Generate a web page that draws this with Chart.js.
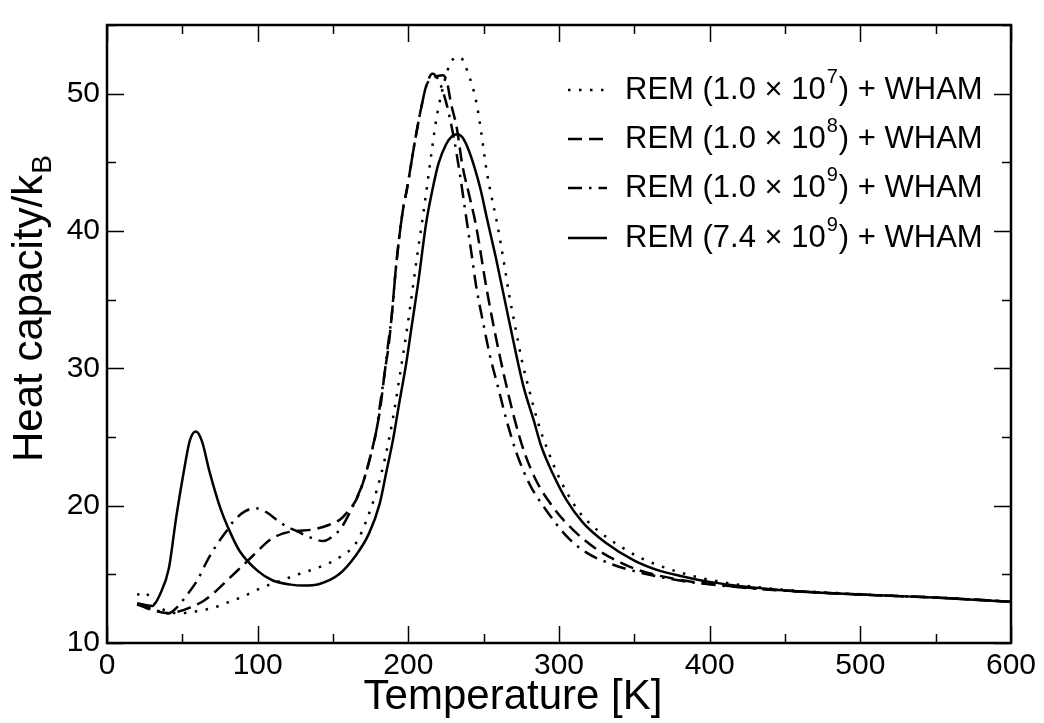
<!DOCTYPE html>
<html>
<head>
<meta charset="utf-8">
<script src="https://cdn.jsdelivr.net/npm/chart.js@4.4.0/dist/chart.umd.min.js"></script>
<style>
  html, body { margin: 0; padding: 0; background: #fff; }
  #wrap { width: 1044px; height: 723px; }
</style>
</head>
<body>
<div id="wrap"><canvas id="heatChart"></canvas></div>
<script>
const fontFamily = '"Liberation Sans", Arial, Helvetica, sans-serif';

// REM (1.0 x 10^7) + WHAM  -- dotted
const tempRem7 = [20, 25, 30, 38, 47, 55, 63, 71, 80, 90, 103, 116, 128, 141, 154.5, 165.5, 172, 179, 184.5, 190, 194.5, 198.5, 201, 206, 211, 215.5, 218.5, 222, 227, 232, 235, 239, 245, 248.5, 251.5, 255, 258.5, 263, 267, 271, 275.5, 280.5, 286.5, 293, 299, 306, 313, 320, 331, 345, 354, 370, 380, 400, 442, 500, 552, 600];
const capRem7 = [13.5, 13.7, 13.05, 12.4, 12.17, 12.24, 12.38, 12.58, 12.95, 13.37, 14.04, 14.57, 15.04, 15.52, 16.24, 17.31, 18.87, 21.1, 23.45, 26.5, 29.6, 32.4, 34.3, 38.3, 42.1, 45.8, 48.1, 50.0, 52.0, 52.65, 52.6, 51.7, 49.45, 47.1, 44.7, 42.6, 40.8, 38.0, 35.3, 33.0, 30.5, 28.3, 25.9, 23.9, 22.3, 20.8, 19.6, 18.75, 17.75, 16.75, 16.2, 15.5, 15.15, 14.6, 13.95, 13.55, 13.3, 13.0];

// REM (1.0 x 10^8) + WHAM  -- dashed
const tempRem8 = [20, 26.5, 34, 41, 47.5, 55, 64, 73, 82, 90.5, 99.5, 108, 117, 125, 137, 148, 154.5, 159, 166, 170, 174.5, 179, 181.5, 184.5, 187, 189, 192, 196.5, 199, 204, 208.5, 212, 216, 220, 223, 225.5, 228.5, 232, 236, 240, 245, 252, 260.5, 270.5, 277, 285, 296, 309, 325, 342, 353, 380, 400, 442, 500, 552, 600];
const capRem8 = [12.84, 12.53, 12.29, 12.17, 12.29, 12.58, 13.06, 13.85, 14.8, 15.68, 16.64, 17.5, 17.98, 18.15, 18.27, 18.63, 18.98, 19.46, 20.55, 21.7, 23.45, 25.6, 27.2, 29.85, 31.7, 33.85, 37.6, 41.6, 43.0, 46.3, 48.95, 50.6, 51.1, 51.3, 51.35, 50.9, 49.2, 47.6, 44.7, 42.8, 40.35, 35.75, 31.0, 26.3, 23.9, 21.8, 19.9, 18.27, 16.83, 15.8, 15.3, 14.6, 14.3, 13.88, 13.53, 13.3, 13.0];

// REM (1.0 x 10^9) + WHAM  -- dash-dot
const tempRem9 = [20, 28, 35, 41, 47.5, 53, 60, 66, 73, 78.5, 84, 91.5, 98.5, 106, 112.5, 119.5, 126, 132.5, 143.5, 150, 155.5, 161, 165.5, 170, 174.5, 179, 181, 184.5, 186.5, 189, 192, 196.5, 199, 204, 208.5, 212, 216, 220, 225, 230, 234, 238, 242, 245, 249.5, 254, 259.5, 265, 271.5, 280.5, 291.5, 305, 318, 336, 353, 380, 400, 442, 500, 552, 600];
const capRem9 = [12.8, 12.55, 12.3, 12.17, 12.72, 13.49, 14.57, 15.88, 17.19, 18.03, 18.87, 19.58, 19.82, 19.51, 18.98, 18.46, 18.15, 17.79, 17.43, 17.79, 18.39, 19.46, 20.5, 21.7, 23.45, 25.6, 27.2, 29.85, 31.7, 33.85, 37.6, 41.6, 43.0, 46.3, 48.95, 50.6, 51.45, 51.0, 49.4, 46.9, 44.3, 41.3, 38.3, 36.0, 33.4, 31.0, 28.65, 26.3, 23.93, 21.56, 19.67, 17.78, 16.6, 15.7, 15.15, 14.55, 14.27, 13.86, 13.53, 13.3, 13.0];

// REM (7.4 x 10^9) + WHAM  -- solid
const tempRem74 = [20, 30, 35, 41, 46, 51, 55, 59, 63, 68, 75, 82, 88, 100, 110, 122, 130, 141, 154, 165, 174, 181, 185.5, 190, 194, 198.5, 202, 206.5, 212, 216, 220, 225, 229, 232.5, 236, 240, 244, 248, 252, 258, 267, 276.5, 283, 288, 296, 305, 316, 331, 350, 367, 380, 400, 442, 500, 552, 600];
const capRem74 = [12.9, 12.7, 13.5, 15.4, 19.2, 22.5, 24.75, 25.4, 24.7, 22.5, 19.9, 18.0, 16.7, 15.25, 14.55, 14.25, 14.18, 14.3, 15.0, 16.35, 18.0, 20.15, 22.5, 24.9, 27.5, 30.3, 32.9, 36.2, 40.7, 43.0, 44.9, 46.3, 46.9, 47.05, 46.8, 45.9, 44.6, 43.0, 41.0, 38.1, 33.4, 28.65, 26.3, 24.4, 22.3, 20.4, 18.75, 17.3, 16.0, 15.25, 14.9, 14.45, 13.9, 13.53, 13.3, 13.0];

// legend text: mantissa and exponent for each run
const legendMantissa = ['1.0', '1.0', '1.0', '7.4'];
const legendExponent = ['7', '8', '9', '9'];

const dashStyles = [[2.5, 8.5], [14, 7], [14, 7, 2.5, 7], []];

function toPoints(xs, ys) {
  return xs.map((x, i) => ({ x: x, y: ys[i] }));
}

const seriesData = [
  toPoints(tempRem7, capRem7),
  toPoints(tempRem8, capRem8),
  toPoints(tempRem9, capRem9),
  toPoints(tempRem74, capRem74)
];

const frameAndLegend = {
  id: 'frameAndLegend',
  afterDraw(chart) {
    const ctx = chart.ctx;
    const a = chart.chartArea;
    const xs = chart.scales.x;
    const ys = chart.scales.y;
    ctx.save();
    ctx.strokeStyle = '#000';
    ctx.fillStyle = '#000';

    // inward ticks on all four sides
    ctx.lineWidth = 1.5;
    ctx.beginPath();
    for (let v = 0; v <= 600; v += 50) {
      const px = Math.round(xs.getPixelForValue(v)) + 0.5;
      const len = v % 100 === 0 ? 17 : 9;
      ctx.moveTo(px, a.bottom); ctx.lineTo(px, a.bottom - len);
      ctx.moveTo(px, a.top); ctx.lineTo(px, a.top + len);
    }
    for (let v = 10; v <= 55; v += 5) {
      const py = Math.round(ys.getPixelForValue(v)) + 0.5;
      const len = v % 10 === 0 ? 17 : 9;
      ctx.moveTo(a.left, py); ctx.lineTo(a.left + len, py);
      ctx.moveTo(a.right, py); ctx.lineTo(a.right - len, py);
    }
    ctx.stroke();

    // frame
    ctx.lineWidth = 2.5;
    ctx.strokeRect(a.left, a.top, a.right - a.left, a.bottom - a.top);

    // legend inside the plot
    const big = 31, small = 20;
    const rowY = [90, 139, 188, 238];
    ctx.textBaseline = 'middle';
    ctx.textAlign = 'left';
    for (let i = 0; i < 4; i++) {
      const y = rowY[i];
      ctx.lineWidth = 2.5;
      ctx.setLineDash(dashStyles[i]);
      ctx.beginPath();
      ctx.moveTo(568, y);
      ctx.lineTo(607, y);
      ctx.stroke();
      ctx.setLineDash([]);
      let tx = 625;
      ctx.font = big + 'px ' + fontFamily;
      const head = 'REM (' + legendMantissa[i] + ' \u00d7 10';
      ctx.fillText(head, tx, y);
      tx += ctx.measureText(head).width;
      ctx.font = small + 'px ' + fontFamily;
      ctx.fillText(legendExponent[i], tx + 1, y - 13);
      tx += ctx.measureText(legendExponent[i]).width + 2;
      ctx.font = big + 'px ' + fontFamily;
      ctx.fillText(') + WHAM', tx, y);
    }

    // x axis title, centred on the figure
    ctx.textAlign = 'center';
    ctx.font = '42px ' + fontFamily;
    ctx.fillText('Temperature [K]', 513, 697);

    // y axis title with subscript
    ctx.textAlign = 'left';
    ctx.translate(42, 462);
    ctx.rotate(-Math.PI / 2);
    ctx.textBaseline = 'alphabetic';
    ctx.font = '42px ' + fontFamily;
    const main = 'Heat capacity/k';
    ctx.fillText(main, 0, 0);
    const w = ctx.measureText(main).width;
    ctx.font = '28px ' + fontFamily;
    ctx.fillText('B', w + 1, 9);
    ctx.restore();
  }
};

new Chart(document.getElementById('heatChart'), {
  type: 'line',
  data: {
    datasets: seriesData.map((pts, i) => ({
      label: 'REM ' + legendMantissa[i] + 'e' + legendExponent[i],
      data: pts,
      borderColor: '#000',
      borderWidth: 2.5,
      borderDash: dashStyles[i],
      pointRadius: 0,
      fill: false,
      cubicInterpolationMode: 'monotone'
    }))
  },
  options: {
    responsive: true,
    maintainAspectRatio: false,
    animation: false,
    layout: { padding: { top: 8, right: 33, left: 0, bottom: 0 } },
    plugins: {
      legend: { display: false },
      tooltip: { enabled: false }
    },
    scales: {
      x: {
        type: 'linear',
        min: 0,
        max: 600,
        grid: { display: false, drawTicks: false },
        border: { display: false },
        ticks: {
          stepSize: 100,
          padding: 5,
          color: '#000',
          font: { family: fontFamily, size: 30 },
          maxRotation: 0
        },
        afterFit(scale) { scale.height = 80; }
      },
      y: {
        type: 'linear',
        min: 10,
        max: 55,
        grid: { display: false, drawTicks: false },
        border: { display: false },
        ticks: {
          stepSize: 10,
          includeBounds: false,
          padding: 7,
          color: '#000',
          font: { family: fontFamily, size: 30 }
        },
        afterFit(scale) { scale.width = 107; }
      }
    }
  },
  plugins: [frameAndLegend]
});
</script>
</body>
</html>
